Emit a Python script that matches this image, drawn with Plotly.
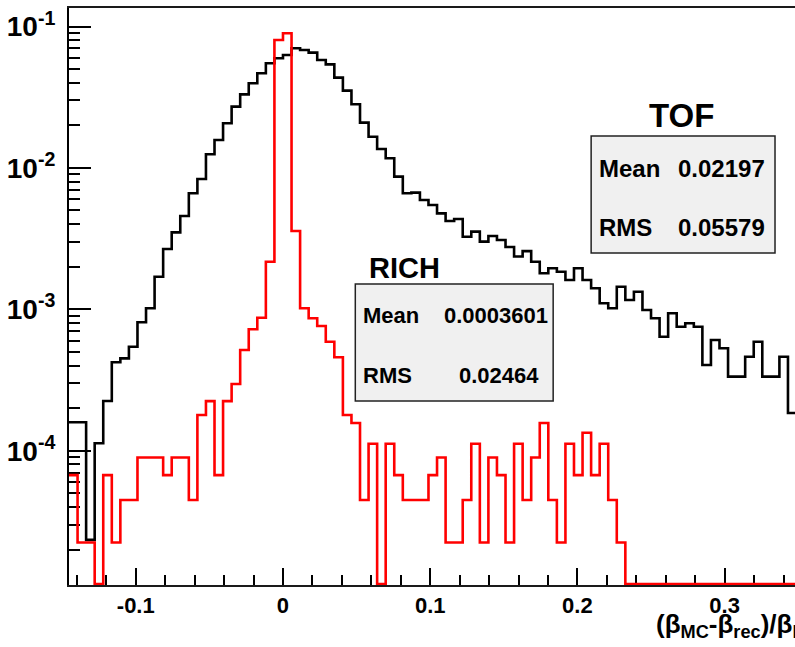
import numpy as np
import plotly.graph_objects as go

# ---------------- data ----------------
bin_width = 1.0 / 172.0
first_edge = -25 * bin_width          # left edge of first visible bin
n_bins = 85

tof_values = [
    1.59e-4, 1.59e-4, 2.34e-5, 1.128e-4, 2.246e-4, 4.22e-4, 4.50e-4, 5.44e-4, 8.09e-4, 1.016e-3,
    1.70e-3, 2.67e-3, 3.50e-3, 4.57e-3, 6.61e-3, 8.35e-3, 1.248e-2, 1.575e-2, 2.068e-2, 2.71e-2,
    3.31e-2, 3.97e-2, 4.67e-2, 5.49e-2, 5.96e-2, 6.29e-2, 7.01e-2, 6.82e-2, 6.53e-2, 5.79e-2,
    5.40e-2, 4.35e-2, 3.52e-2, 2.82e-2, 2.09e-2, 1.662e-2, 1.36e-2, 1.169e-2, 8.67e-3, 6.61e-3,
    6.68e-3, 5.93e-3, 5.47e-3, 4.77e-3, 4.21e-3, 4.35e-3, 3.26e-3, 3.54e-3, 3.01e-3, 3.30e-3,
    3.09e-3, 2.76e-3, 2.36e-3, 2.58e-3, 2.17e-3, 1.797e-3, 1.95e-3, 1.845e-3, 1.611e-3, 1.95e-3,
    1.611e-3, 1.408e-3, 1.103e-3, 1.016e-3, 1.445e-3, 1.164e-3, 1.332e-3, 9.89e-4, 8.64e-4, 6.40e-4,
    9.37e-4, 7.53e-4, 7.96e-4, 7.53e-4, 4.04e-4, 6.07e-4, 5.30e-4, 3.34e-4, 3.34e-4, 4.62e-4,
    5.90e-4, 3.34e-4, 3.34e-4, 4.62e-4, 1.848e-4,
]

rich_values = [
    6.72e-5, 2.24e-5, 2.24e-5, 0.0, 6.72e-5, 2.24e-5, 4.48e-5, 4.48e-5, 8.96e-5, 8.96e-5,
    8.96e-5, 6.72e-5, 8.96e-5, 8.96e-5, 4.48e-5, 1.79e-4, 2.24e-4, 6.72e-5, 2.24e-4, 2.96e-4,
    5.15e-4, 7.22e-4, 8.72e-4, 2.17e-3, 8.03e-2, 8.95e-2, 3.58e-3, 1.016e-3, 8.64e-4, 7.62e-4,
    5.90e-4, 4.58e-4, 1.79e-4, 1.57e-4, 4.48e-5, 1.12e-4, 0.0, 1.12e-4, 6.72e-5, 4.48e-5,
    4.48e-5, 4.48e-5, 6.72e-5, 8.96e-5, 2.24e-5, 2.24e-5, 4.48e-5, 1.12e-4, 2.24e-5, 8.96e-5,
    6.72e-5, 2.24e-5, 1.12e-4, 4.48e-5, 8.96e-5, 1.57e-4, 4.48e-5, 2.24e-5, 1.12e-4, 6.72e-5,
    1.34e-4, 6.72e-5, 1.12e-4, 4.48e-5, 2.24e-5, 0.0, 0.0, 0.0, 0.0, 0.0,
    0.0, 0.0, 0.0, 0.0, 0.0, 0.0, 0.0, 0.0, 0.0, 0.0,
    0.0, 0.0, 0.0, 0.0, 0.0,
]

x_tick_vals = [-0.1, 0.0, 0.1, 0.2, 0.3]
x_tick_text = ["-0.1", "0", "0.1", "0.2", "0.3"]
y_tick_vals = [1e-4, 1e-3, 1e-2, 1e-1]
y_tick_text = ["10<sup>-4</sup>", "10<sup>-3</sup>", "10<sup>-2</sup>", "10<sup>-1</sup>"]

tof_stats = {"title": "TOF", "Mean": "0.02197", "RMS": "0.05579"}
rich_stats = {"title": "RICH", "Mean": "0.0003601", "RMS": "0.02464"}
x_title = "(β<sub>MC</sub>-β<sub>rec</sub>)/β<sub>MC</sub>"

# ---------------- geometry ----------------
W, H = 795, 647
L, R, T, B = 68.5, 795, 8, 585
x_range = [first_edge, 0.3478]
y_range = [-4.9498, -0.8692]

def px(x):
    return (x - L) / (R - L)

def py(y):
    return (B - y) / (B - T)

edges = first_edge + bin_width * np.arange(n_bins + 1)
floor = 10 ** (y_range[0] + 0.006)

def step_y(vals):
    v = np.array(vals, dtype=float)
    v = np.where(v > 0, v, floor)
    return np.append(v, v[-1])

fig = go.Figure()
fig.add_trace(go.Scatter(x=edges, y=step_y(tof_values), mode="lines",
                         line=dict(color="black", width=2.6, shape="hv"),
                         showlegend=False, hoverinfo="skip"))
fig.add_trace(go.Scatter(x=edges, y=step_y(rich_values), mode="lines",
                         line=dict(color="#ff0000", width=2.6, shape="hv"),
                         showlegend=False, hoverinfo="skip"))

minor_y = [m * 10.0 ** d for d in range(-5, 0) for m in range(2, 10)]

TXT = "Liberation Sans, Arial, sans-serif"

fig.update_layout(
    width=W, height=H,
    margin=dict(l=L, r=W - R, t=T, b=H - B, pad=0),
    paper_bgcolor="white", plot_bgcolor="white",
    showlegend=False,
    xaxis=dict(
        range=x_range, showgrid=False, zeroline=False,
        showline=True, linecolor="#1a1a1a", linewidth=2, mirror=True,
        ticks="inside", ticklen=17, tickwidth=1.5, tickcolor="black",
        tickmode="array", tickvals=x_tick_vals, ticktext=x_tick_text,
        tickfont=dict(family=TXT, size=22, color="black", weight="bold"),
        minor=dict(ticks="inside", ticklen=10, tickwidth=1.5, tickcolor="black",
                   dtick=0.02, tick0=0.0, showgrid=False),
        layer="below traces",
    ),
    yaxis=dict(
        type="log", range=y_range, showgrid=False, zeroline=False,
        showline=True, linecolor="black", linewidth=2, mirror=False,
        ticks="inside", ticklen=22, tickwidth=1.5, tickcolor="black",
        tickmode="array", tickvals=y_tick_vals, ticktext=y_tick_text,
        tickfont=dict(family=TXT, size=28, color="black", weight="bold"),
        minor=dict(ticks="inside", ticklen=11, tickwidth=1.5, tickcolor="black",
                   tickmode="array", tickvals=minor_y, showgrid=False),
        ticklabelstandoff=6,
        layer="below traces",
    ),
)

shapes = []
annotations = []

def stat_box(stats, title_xy, title_size, box, rows, row_size, label_x, value_x):
    x0, y0, x1, y1 = box
    shapes.append(dict(type="rect", xref="paper", yref="paper",
                       x0=px(x0), x1=px(x1), y0=py(y1), y1=py(y0),
                       fillcolor="#f0f0f0", line=dict(color="#222222", width=1.5),
                       layer="above"))
    annotations.append(dict(xref="paper", yref="paper", x=px(title_xy[0]), y=py(title_xy[1]),
                            text=stats["title"], showarrow=False, xanchor="center", yanchor="middle",
                            font=dict(family=TXT, size=title_size, color="black", weight="bold")))
    for key, ry in zip(["Mean", "RMS"], rows):
        annotations.append(dict(xref="paper", yref="paper", x=px(label_x), y=py(ry),
                                text=key, showarrow=False, xanchor="left", yanchor="middle",
                                font=dict(family=TXT, size=row_size, color="black", weight="bold")))
    for key, ry, vx in zip(["Mean", "RMS"], rows, value_x):
        annotations.append(dict(xref="paper", yref="paper", x=px(vx), y=py(ry),
                                text=stats[key], showarrow=False, xanchor="right", yanchor="middle",
                                font=dict(family=TXT, size=row_size, color="black", weight="bold")))

stat_box(tof_stats, (681, 116), 33, (591, 136, 775, 253), (168, 227), 24, 597, (767, 767))
stat_box(rich_stats, (404, 268), 29, (355, 284, 553, 401), (315, 375), 22, 361, (550, 541))

annotations.append(dict(xref="paper", yref="paper", x=px(654), y=py(625),
                        text=x_title, showarrow=False, xanchor="left", yanchor="middle",
                        font=dict(family=TXT, size=26, color="black", weight="bold")))

fig.update_layout(shapes=shapes, annotations=annotations)
fig.write_html("out.html")
